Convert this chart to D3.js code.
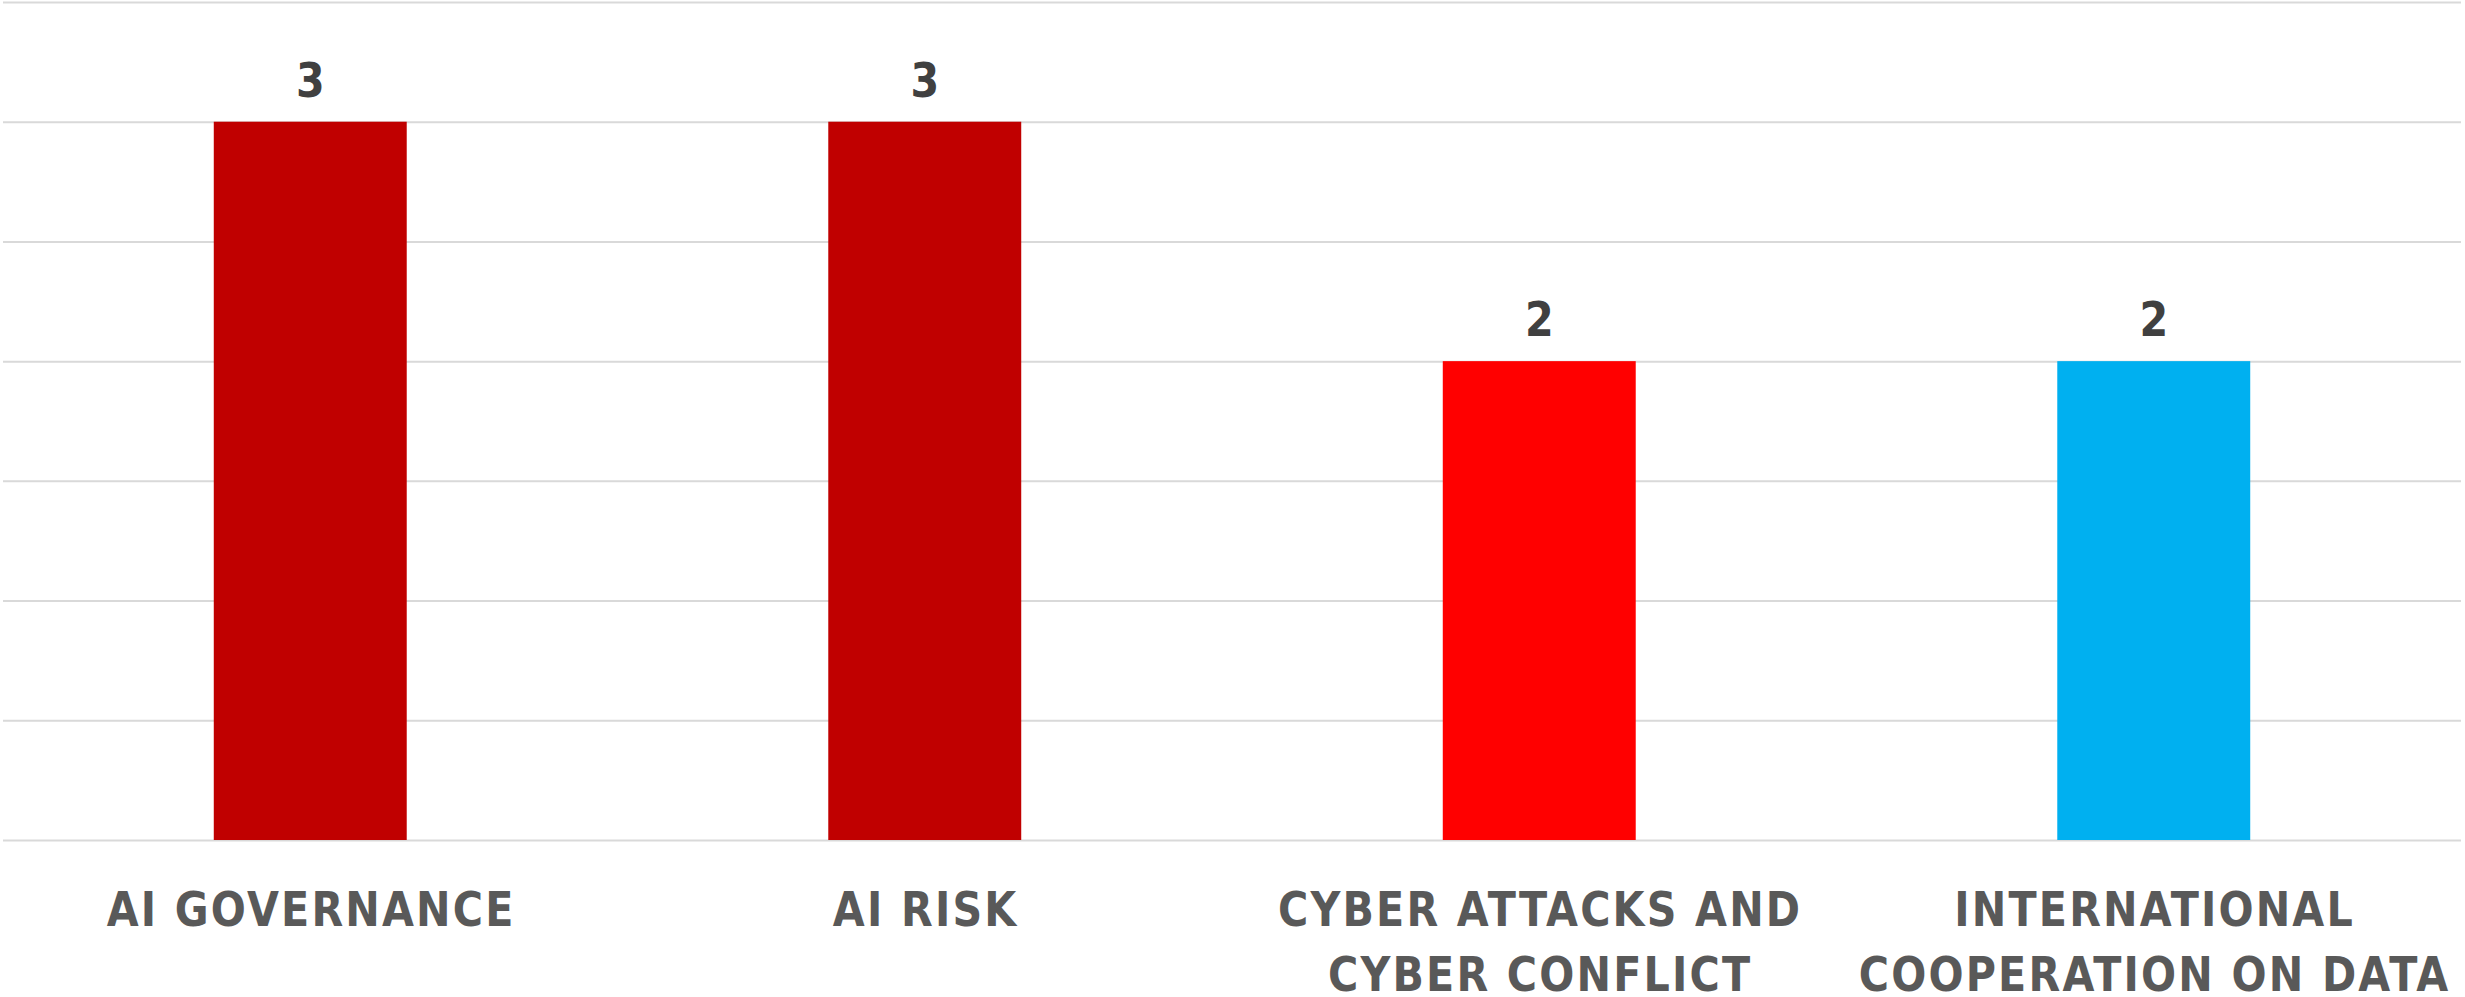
<!DOCTYPE html>
<html>
<head>
<meta charset="utf-8">
<script src="https://cdn.jsdelivr.net/npm/d3@7"></script>
<style>
  html, body { margin: 0; padding: 0; background: #ffffff; }
  svg { display: block; }
  .lbl { font-family: "DejaVu Sans", sans-serif; font-weight: 700; }
</style>
</head>
<body>
<svg id="chart" width="2465" height="997"></svg>
<script>
const categories = ["AI GOVERNANCE", "AI RISK", "CYBER ATTACKS AND CYBER CONFLICT", "INTERNATIONAL COOPERATION ON DATA"];
const categoryLines = [["AI GOVERNANCE"], ["AI RISK"], ["CYBER ATTACKS AND", "CYBER CONFLICT"], ["INTERNATIONAL", "COOPERATION ON DATA"]];
const values = [3, 3, 2, 2];
const barColors = ["#C00000", "#C00000", "#FF0000", "#00B0F0"];
const yTicks = [0, 0.5, 1, 1.5, 2, 2.5, 3, 3.5];

const svg = d3.select("#chart");
const plot = { left: 3, right: 2461, top: 2, bottom: 840 };
const squeeze = 0.86;

const x = d3.scaleBand()
  .domain(categories)
  .range([plot.left, plot.right])
  .paddingInner(0.686)
  .paddingOuter(0.343);

const y = d3.scaleLinear()
  .domain([0, 3.5])
  .range([plot.bottom, plot.top]);

// gridlines
const grid = svg.append("g")
  .attr("transform", `translate(${plot.left},0)`)
  .call(d3.axisLeft(y).tickValues(yTicks).tickSize(-(plot.right - plot.left)).tickFormat(""));
grid.select(".domain").remove();
grid.selectAll(".tick line").attr("stroke", "#d9d9d9").attr("stroke-width", 2);

// bars
svg.append("g").selectAll("rect")
  .data(values)
  .join("rect")
  .attr("x", (d, i) => x(categories[i]))
  .attr("width", x.bandwidth())
  .attr("y", d => y(d))
  .attr("height", d => y(0) - y(d))
  .attr("fill", (d, i) => barColors[i]);

// value labels
svg.append("g").selectAll("g")
  .data(values)
  .join("g")
  .attr("transform", (d, i) => `translate(${x(categories[i]) + x.bandwidth() / 2},${y(d) - 25}) scale(${squeeze},1)`)
  .append("text")
  .attr("class", "lbl")
  .attr("text-anchor", "middle")
  .attr("font-size", 48)
  .attr("fill", "#404040")
  .text(d => d);

// category labels
const xAxis = svg.append("g")
  .attr("transform", `translate(0,${plot.bottom})`)
  .call(d3.axisBottom(x).tickSize(0).tickFormat(""));
xAxis.select(".domain").remove();

xAxis.selectAll(".tick").each(function(d, i) {
  const t = d3.select(this).append("g")
    .attr("transform", `scale(${squeeze},1)`)
    .append("text")
    .attr("class", "lbl")
    .attr("text-anchor", "middle")
    .attr("font-size", 48)
    .attr("letter-spacing", 2.5)
    .attr("fill", "#595959");
  categoryLines[i].forEach((line, j) => {
    t.append("tspan")
      .attr("x", 1)
      .attr("y", 86 + j * 65)
      .text(line);
  });
});
</script>
</body>
</html>
